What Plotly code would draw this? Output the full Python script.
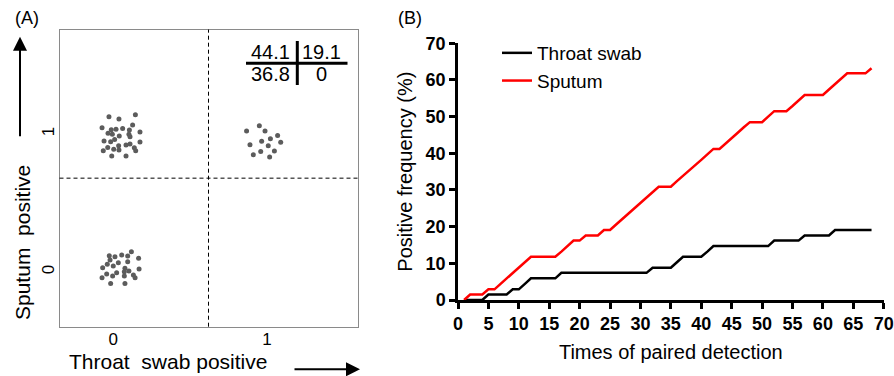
import plotly.graph_objects as go

W, H = 894, 376
FONT = "Arial, 'Liberation Sans', Helvetica, sans-serif"

# ---------------- Panel A data (jittered dot positions, data units) ----------------
ul_x = [-0.028, 0.037, 0.144, -0.073, 0.126, -0.013, 0.018, 0.061, 0.105, 0.174,
        -0.034, -0.006, 0.039, 0.102, 0.109, 0.009, -0.060, -0.017, 0.174, -0.036,
        0.035, 0.083, 0.109, 0.137, -0.065, 0.003, 0.037, 0.146, -0.010, 0.083]
ul_y = [1.126, 1.109, 1.140, 1.046, 1.065, 1.031, 1.034, 1.041, 1.029, 1.015,
        1.005, 0.998, 0.986, 0.998, 0.981, 0.961, 0.949, 0.944, 0.942, 0.903,
        0.915, 0.920, 0.928, 0.901, 0.879, 0.889, 0.884, 0.879, 0.841, 0.841]
ur_x = [0.951, 0.868, 0.988, 1.070, 1.023, 0.966, 1.090, 0.890, 1.009, 1.049,
        0.960, 0.912, 1.018]
ur_y = [1.060, 1.022, 1.022, 0.990, 0.966, 0.947, 0.940, 0.923, 0.915, 0.877,
        0.874, 0.850, 0.833]
ll_x = [0.118, -0.026, 0.011, 0.055, 0.094, 0.165, -0.021, 0.033, 0.094, -0.039,
        -0.069, 0.000, 0.076, 0.168, -0.043, 0.022, 0.072, 0.102, -0.004, 0.072,
        0.131, -0.073, 0.142, -0.017, 0.076]
ll_y = [0.147, 0.118, 0.111, 0.123, 0.116, 0.099, 0.087, 0.067, 0.074, 0.055,
        0.031, 0.043, 0.026, 0.021, -0.015, -0.005, 0.002, 0.007, -0.029, -0.029,
        -0.022, -0.042, -0.042, -0.083, -0.083]

a_ticks = [0, 1]
a_ticktext = ["0", "1"]
a_xdiv = 0.62
a_ydiv = 0.68
table_values = [["44.1", "19.1"], ["36.8", "0"]]

# ---------------- Panel B data ----------------
detections = list(range(1, 69))
throat_pct = [0, 0, 0, 0,
              1.5, 1.5, 1.5, 1.5,
              2.9, 2.9,
              4.4,
              5.9, 5.9, 5.9, 5.9, 5.9,
              7.4, 7.4, 7.4, 7.4, 7.4, 7.4, 7.4, 7.4, 7.4, 7.4, 7.4, 7.4, 7.4, 7.4, 7.4,
              8.8, 8.8, 8.8, 8.8,
              10.3,
              11.8, 11.8, 11.8, 11.8,
              13.2,
              14.7, 14.7, 14.7, 14.7, 14.7, 14.7, 14.7, 14.7, 14.7, 14.7,
              16.2, 16.2, 16.2, 16.2, 16.2,
              17.6, 17.6, 17.6, 17.6, 17.6,
              19.1, 19.1, 19.1, 19.1, 19.1, 19.1, 19.1]
sputum_pct = [0, 1.5, 1.5, 1.5, 2.9, 2.9, 4.4, 5.9, 7.4, 8.8,
              10.3, 11.8, 11.8, 11.8, 11.8, 11.8, 13.2, 14.7, 16.2, 16.2,
              17.6, 17.6, 17.6, 19.1, 19.1, 20.6, 22.1, 23.5, 25.0, 26.5,
              27.9, 29.4, 30.9, 30.9, 30.9, 32.4, 33.8, 35.3, 36.8, 38.2,
              39.7, 41.2, 41.2, 42.6, 44.1, 45.6, 47.1, 48.5, 48.5, 48.5,
              50.0, 51.5, 51.5, 51.5, 52.9, 54.4, 55.9, 55.9, 55.9, 55.9,
              57.4, 58.8, 60.3, 61.8, 61.8, 61.8, 61.8, 63.2]
b_xticks = list(range(0, 75, 5))
b_yticks = list(range(0, 80, 10))


def px(x):
    return x / W


def py(y):
    return 1 - y / H


fig = go.Figure()
fig.add_trace(go.Scatter(
    x=ul_x + ur_x + ll_x, y=ul_y + ur_y + ll_y, mode="markers",
    marker=dict(size=5, color="#5c5c5c", line=dict(width=0)),
    xaxis="x", yaxis="y", showlegend=False, hoverinfo="skip"))
fig.add_trace(go.Scatter(
    x=detections, y=throat_pct, mode="lines", name="Throat swab",
    line=dict(color="black", width=2.5), xaxis="x2", yaxis="y2"))
fig.add_trace(go.Scatter(
    x=detections, y=sputum_pct, mode="lines", name="Sputum",
    line=dict(color="#ff0000", width=2.5), xaxis="x2", yaxis="y2"))

axA = dict(showgrid=False, zeroline=False, showline=True, mirror=True,
           linecolor="#8a8a8a", linewidth=1, ticks="", tickvals=a_ticks,
           ticktext=a_ticktext, automargin=False,
           tickfont=dict(family=FONT, size=17, color="black"))
axB = dict(showgrid=False, zeroline=False, showline=True, linecolor="black",
           linewidth=2.5, ticks="outside", ticklen=6, tickwidth=2.5, tickcolor="black",
           automargin=False,
           tickfont=dict(family=FONT, size=18, color="black", weight="bold"),
           range=[0, 70])

fig.update_layout(
    width=W, height=H, margin=dict(l=0, r=0, t=0, b=0, autoexpand=False),
    paper_bgcolor="white", plot_bgcolor="white",
    font=dict(family=FONT, color="black"),
    xaxis=dict(axA, domain=[px(59.5), px(357.5)], range=[-0.35, 1.59], anchor="y",
               ticklabelstandoff=-3),
    yaxis=dict(axA, domain=[py(326.7), py(29.5)], range=[-0.397, 1.758], anchor="x",
               tickangle=-90, ticklabelstandoff=-2),
    xaxis2=dict(axB, domain=[px(458), px(883.7)], anchor="y2", tickvals=b_xticks,
                title=dict(text="Times of paired detection", font=dict(family=FONT, size=20),
                           standoff=12)),
    yaxis2=dict(axB, domain=[py(300), py(43.3)], anchor="x2", tickvals=b_yticks,
                title=dict(text="Positive frequency (%)", font=dict(family=FONT, size=20),
                           standoff=8)),
    legend=dict(x=px(497), y=py(34), xanchor="left", yanchor="top",
                bgcolor="rgba(0,0,0,0)", font=dict(family=FONT, size=19),
                itemwidth=30, tracegroupgap=4),
    showlegend=True,
)

shapes = [
    dict(type="line", xref="x", yref="y domain", x0=a_xdiv, x1=a_xdiv, y0=0, y1=1,
         line=dict(color="black", width=1, dash="4px,3px")),
    dict(type="line", xref="x domain", yref="y", x0=0, x1=1, y0=a_ydiv, y1=a_ydiv,
         line=dict(color="black", width=1, dash="4px,3px")),
    # table cross
    dict(type="line", xref="paper", yref="paper", x0=px(246), x1=px(347.5),
         y0=py(63.3), y1=py(63.3), line=dict(color="black", width=3)),
    dict(type="line", xref="paper", yref="paper", x0=px(297.3), x1=px(297.3),
         y0=py(41), y1=py(85), line=dict(color="black", width=3)),
]
fig.update_layout(shapes=shapes)

ann = []
cell_x = [270.3, 321.3]
cell_y = [52.0, 74.5]
for r in range(2):
    for c in range(2):
        ann.append(dict(text=table_values[r][c], x=px(cell_x[c]), y=py(cell_y[r]),
                        xref="paper", yref="paper", showarrow=False,
                        xanchor="center", yanchor="middle",
                        font=dict(family=FONT, size=20, color="black")))
ann += [
    dict(text="(A)", x=px(27), y=py(18), xref="paper", yref="paper", showarrow=False,
         xanchor="center", yanchor="middle", font=dict(family=FONT, size=18)),
    dict(text="(B)", x=px(409.5), y=py(18), xref="paper", yref="paper", showarrow=False,
         xanchor="center", yanchor="middle", font=dict(family=FONT, size=18)),
    dict(text="Throat\u00a0 swab positive", x=px(167.5), y=py(361), xref="paper",
         yref="paper", showarrow=False, xanchor="center", yanchor="middle",
         font=dict(family=FONT, size=21)),
    dict(text="Sputum\u00a0 positive", x=px(22), y=py(243), xref="paper",
         yref="paper", showarrow=False, xanchor="center", yanchor="middle",
         textangle=-90, font=dict(family=FONT, size=21)),
    dict(text="", x=px(360), y=py(369.3), xref="paper", yref="paper",
         showarrow=True, ax=-67, ay=0, arrowhead=2, arrowwidth=2, arrowsize=1.4,
         arrowcolor="black", standoff=0),
    dict(text="", x=px(20), y=py(36.7), xref="paper", yref="paper",
         showarrow=True, ax=0, ay=101, arrowhead=2, arrowwidth=2, arrowsize=1.4,
         arrowcolor="black", standoff=0),
]
fig.update_layout(annotations=ann)

fig.write_html("out.html")
